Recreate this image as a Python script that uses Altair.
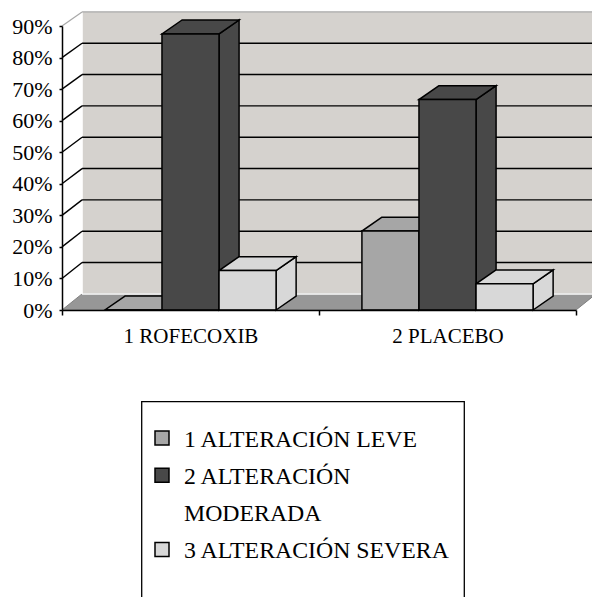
import textwrap

import altair as alt
import pandas as pd

# ---- data -------------------------------------------------------------
categories = ["1 ROFECOXIB", "2 PLACEBO"]
series = ["1 ALTERACIÓN LEVE", "2 ALTERACIÓN MODERADA", "3 ALTERACIÓN SEVERA"]
rofecoxib_pct = [0.0, 87.5, 12.5]
placebo_pct = [25.0, 66.7, 8.3]
percent_ticks = [0, 10, 20, 30, 40, 50, 60, 70, 80, 90]
series_colors = ["#a6a6a6", "#484848", "#d8d8d8"]

group_values = [rofecoxib_pct, placebo_pct]

SERIF = "'Times New Roman', 'Liberation Serif', 'DejaVu Serif', serif"

# ---- 3-D geometry, in data units -------------------------------------
BAR_W = 0.222          # width of one column (category slot = 1)
DEPTH_X = 0.078        # horizontal shift of the receding faces
BAR_DEPTH_Y = 4.4      # vertical shift of a column's back edge (in %)
WALL_Y0 = 5.1          # back wall: level of 0 %
WALL_SLOPE = 0.993     # back wall is slightly shorter than the front axis

X_MAX = len(categories)
Y_MAX = percent_ticks[-1]


def wall_y(v):
    return WALL_Y0 + v * WALL_SLOPE


xs = alt.Scale(domain=[0, X_MAX], nice=False, zero=False)
ys = alt.Scale(domain=[0, Y_MAX], nice=False, zero=False)
colors = alt.Scale(domain=series, range=series_colors)

label_expr = (
    " : ".join(f"datum.value == {i + 0.5} ? '{c}'" for i, c in enumerate(categories))
    + " : ''"
)
x_values = sorted([float(i) for i in range(X_MAX + 1)] + [i + 0.5 for i in range(X_MAX)])

x_axis = alt.Axis(
    values=x_values,
    labelExpr=label_expr,
    title="",
    tickSize=5,
    tickWidth=1.5,
    domainWidth=1.5,
    labelPadding=27,
    labelBaseline="alphabetic",
    labelFontSize=21,
    labelFlush=False,
    labelOverlap=False,
    zindex=1,
    tickOpacity={"condition": {"test": "datum.value % 1 != 0", "value": 0}, "value": 1},
)
y_axis = alt.Axis(
    values=percent_ticks,
    labelExpr="datum.value + '%'",
    title="",
    tickSize=3,
    tickWidth=1.5,
    domainWidth=1.5,
    labelPadding=7,
    labelFontSize=22,
    zindex=1,
)


def X(field):
    return alt.X(field, type="quantitative", scale=xs, axis=x_axis, stack=None)


def Y(field):
    return alt.Y(field, type="quantitative", scale=ys, axis=y_axis, stack=None)


# ---- walls and floor --------------------------------------------------
wall_df = pd.DataFrame(
    [{"x0": DEPTH_X, "x1": X_MAX + DEPTH_X, "y0": wall_y(0), "y1": wall_y(Y_MAX)}]
)
back_wall = alt.Chart(wall_df).mark_rect(fill="#d5d2ce").encode(
    x=X("x0"), x2="x1", y=Y("y0"), y2="y1"
)

floor_df = pd.DataFrame(
    [
        {"fy": 0.0, "fx0": 0.0, "fx1": float(X_MAX)},
        {"fy": wall_y(0), "fx0": DEPTH_X, "fx1": X_MAX + DEPTH_X},
    ]
)
floor = alt.Chart(floor_df).mark_area(
    orient="horizontal", fill="#979797", stroke="#808080", strokeWidth=1
).encode(y=Y("fy"), x=X("fx0"), x2="fx1")


def segments(items):
    return pd.DataFrame(items, columns=["rx0", "ry0", "rx1", "ry1"])


highlight = segments(
    [
        (DEPTH_X, wall_y(0), X_MAX + DEPTH_X, wall_y(0)),
        (DEPTH_X, wall_y(0), DEPTH_X, wall_y(Y_MAX)),
    ]
)
grid = segments(
    [(DEPTH_X, wall_y(v), X_MAX + DEPTH_X, wall_y(v)) for v in percent_ticks[1:-1]]
    + [(0.0, v, DEPTH_X, wall_y(v)) for v in percent_ticks[1:-1]]
)
top_edge = segments(
    [
        (0.0, Y_MAX, DEPTH_X, wall_y(Y_MAX)),
        (DEPTH_X, wall_y(Y_MAX), X_MAX + DEPTH_X, wall_y(Y_MAX)),
    ]
)


def rule_layer(df, color, width):
    return alt.Chart(df).mark_rule(color=color, strokeWidth=width).encode(
        x=X("rx0"), x2="rx1", y=Y("ry0"), y2="ry1"
    )


# ---- columns -----------------------------------------------------------
bars = []
for gi, vals in enumerate(group_values):
    for si, (name, v) in enumerate(zip(series, vals)):
        x0 = gi + 0.5 - 1.5 * BAR_W + si * BAR_W
        bars.append({"bar": f"{gi}-{si}", "serie": name, "value": v, "x0": x0, "x1": x0 + BAR_W})
front_df = pd.DataFrame(bars)

side_rows, top_rows = [], []
for b in bars:
    side_rows.append({"bar": b["bar"], "serie": b["serie"], "sx": b["x1"], "lo": 0.0, "hi": b["value"]})
    side_rows.append(
        {
            "bar": b["bar"],
            "serie": b["serie"],
            "sx": b["x1"] + DEPTH_X,
            "lo": BAR_DEPTH_Y,
            "hi": b["value"] + BAR_DEPTH_Y,
        }
    )
    top_rows.append({"bar": b["bar"], "serie": b["serie"], "ty": b["value"], "tx0": b["x0"], "tx1": b["x1"]})
    top_rows.append(
        {
            "bar": b["bar"],
            "serie": b["serie"],
            "ty": b["value"] + BAR_DEPTH_Y,
            "tx0": b["x0"] + DEPTH_X,
            "tx1": b["x1"] + DEPTH_X,
        }
    )
side_df = pd.DataFrame(side_rows)
top_df = pd.DataFrame(top_rows)

fill = alt.Color("serie:N", scale=colors, legend=None)
edge = {"stroke": "black", "strokeWidth": 1.5, "strokeJoin": "miter"}

sides = alt.Chart(side_df).mark_area(orient="vertical", fillOpacity=1, **edge).encode(
    x=X("sx"), y=Y("lo"), y2="hi", color=fill, detail="bar:N"
)
tops = alt.Chart(top_df).mark_area(orient="horizontal", fillOpacity=1, **edge).encode(
    y=Y("ty"), x=X("tx0"), x2="tx1", color=fill, detail="bar:N"
)
fronts = alt.Chart(front_df).mark_rect(**edge).encode(
    x=X("x0"), x2="x1", y=Y("value"), y2=alt.datum(0), color=fill
)

# ---- legend (pixel layout relative to the plot origin) ------------------
LEG_LEFT, LEG_RIGHT, LEG_TOP, LEG_BOTTOM = 79.7, 402.3, 375.7, 600.0
SQ_LEFT, SQ_SIZE = 93.0, 14.0
TEXT_LEFT = 122.0
ROW0_CENTER, LINE_STEP = 412.0, 37.2
LEG_FONT = 23.8

legend_layers = [
    alt.Chart(pd.DataFrame([{"k": 0}])).mark_rect(
        fill="white", stroke="black", strokeWidth=1.3
    ).encode(
        x=alt.value(LEG_LEFT),
        x2=alt.value(LEG_RIGHT),
        y=alt.value(LEG_TOP),
        y2=alt.value(LEG_BOTTOM),
    )
]
lines_before = 0
for name in series:
    label = "\n".join(textwrap.wrap(name, 20))
    cy = ROW0_CENTER + lines_before * LINE_STEP
    item = pd.DataFrame([{"serie": name, "label": label}])
    legend_layers.append(
        alt.Chart(item).mark_rect(stroke="black", strokeWidth=1.5).encode(
            x=alt.value(SQ_LEFT),
            x2=alt.value(SQ_LEFT + SQ_SIZE),
            y=alt.value(cy - SQ_SIZE / 2),
            y2=alt.value(cy + SQ_SIZE / 2),
            color=fill,
        )
    )
    legend_layers.append(
        alt.Chart(item).mark_text(
            align="left",
            baseline="alphabetic",
            font=SERIF,
            fontSize=LEG_FONT,
            color="black",
            lineBreak="\n",
            lineHeight=LINE_STEP,
        ).encode(x=alt.value(TEXT_LEFT), y=alt.value(cy + 8.5), text="label:N")
    )
    lines_before += label.count("\n") + 1

chart = (
    alt.layer(
        back_wall,
        floor,
        rule_layer(highlight, "white", 1.5),
        rule_layer(grid, "black", 1.4),
        rule_layer(top_edge, "#a8a8a8", 1.2),
        sides,
        tops,
        fronts,
        *legend_layers,
    )
    .properties(
        width=514,
        height=284,
        padding={"left": 62, "top": 26, "right": 16, "bottom": 287},
        autosize=alt.AutoSizeParams(type="none"),
        background="white",
    )
    .configure_view(strokeWidth=0)
    .configure_axis(
        labelFont=SERIF,
        labelColor="black",
        domainColor="black",
        tickColor="black",
        grid=False,
    )
)

chart.save("out.html", embed_options={"renderer": "svg", "actions": False})
